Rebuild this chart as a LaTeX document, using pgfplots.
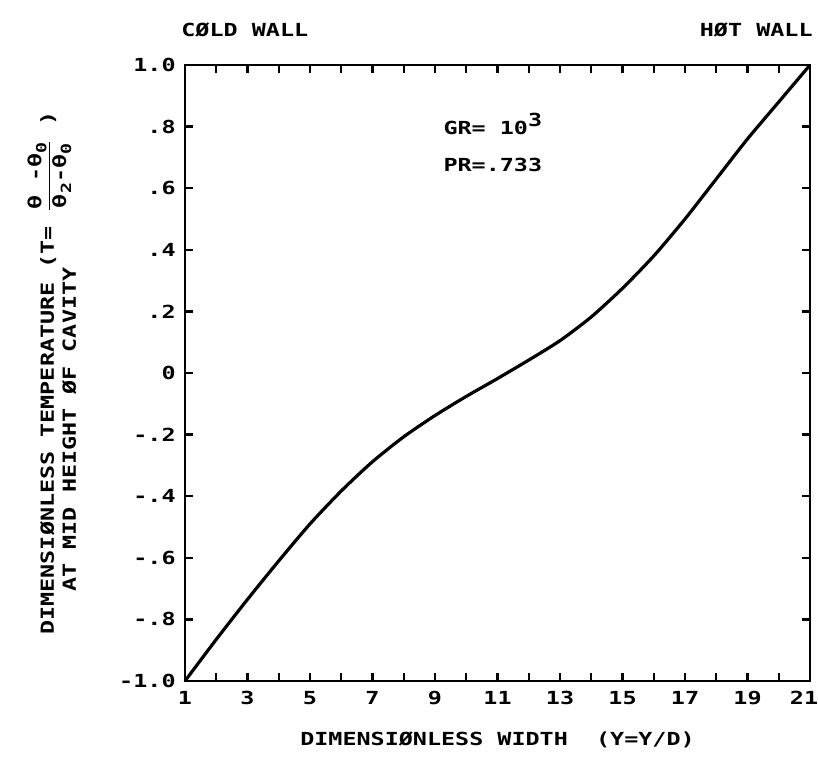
\documentclass[border=0pt]{standalone}
\usepackage{pgfplots}
\pgfplotsset{compat=1.18}
\usepackage{fontspec}
\setmainfont{DejaVu Sans Mono}[FakeStretch=1.3]
\newcommand{\sub}[1]{\raisebox{-2.5pt}{\fontsize{7}{8}\selectfont #1}}
\begin{document}
\fontsize{9}{11}\selectfont\bfseries
\begin{tikzpicture}
\useasboundingbox (-92.5pt,-40pt) rectangle (316.5pt,340.5pt);
\begin{axis}[
  at={(0pt,0pt)}, anchor=south west,
  scale only axis, width=312.5pt, height=308pt,
  xmin=1, xmax=21, ymin=-1, ymax=1,
  axis line style={line width=1.4pt},
  tick align=inside, tick pos=both,
  major tick length=4pt, minor tick length=4pt,
  every tick/.style={line width=1.2pt, black},
  xtick={1,3,...,21}, minor xtick={2,4,...,20},
  ytick={-1,-0.8,...,1.01},
  yticklabels={-1.0,-.8,-.6,-.4,-.2,0,.2,.4,.6,.8,1.0},
  xticklabels={1,3,5,7,9,11,13,15,17,19,\makebox[0pt]{\kern-6pt 21}},
  /pgf/number format/assume math mode=true,
  ticklabel style={font=\fontsize{9}{11}\selectfont\bfseries},
  xticklabel style={anchor=north, yshift=-2pt},
  yticklabel style={anchor=east, xshift=-1.5pt},
  xlabel={DIMENSIØNLESS WIDTH~~(Y=Y/D)},
  xlabel style={at={(axis description cs:0.5,0)}, anchor=center, yshift=-29.5pt, font=\fontsize{9}{11}\selectfont\bfseries},
  clip=false,
]
\addplot[black, line width=1.6pt, smooth, tension=0.4] coordinates {
(1,-1.000) (2,-0.865) (3,-0.735) (4,-0.610) (5,-0.490) (6,-0.383)
(7,-0.288) (8,-0.207) (9,-0.138) (10,-0.076) (11,-0.018) (12,0.042)
(13,0.105) (14,0.182) (15,0.275) (16,0.380) (17,0.500) (18,0.630)
(19,0.760) (20,0.880) (21,1.000)
};
\node[anchor=west, inner sep=0pt] at (axis cs:9.26,0.81) {GR= 10\raisebox{4pt}{3}};
\node[anchor=west, inner sep=0pt] at (axis cs:9.26,0.675) {PR=.733};
\end{axis}
\node[anchor=base west, inner sep=0pt] at (-2pt,322pt) {CØLD WALL};
\node[anchor=base east, inner sep=0pt] at (314pt,322pt) {HØT WALL};
\node[rotate=90, anchor=base west, inner sep=0pt] at (-65.5pt,23pt) {DIMENSIØNLESS TEMPERATURE (T= $\displaystyle\frac{\mbox{\bfseries θ -θ\sub0}}{\mbox{\bfseries θ\sub2-θ\sub0}}$ )};
\node[rotate=90, anchor=base west, inner sep=0pt] at (-54.5pt,44.5pt) {AT MID HEIGHT ØF CAVITY};
\end{tikzpicture}
\end{document}
